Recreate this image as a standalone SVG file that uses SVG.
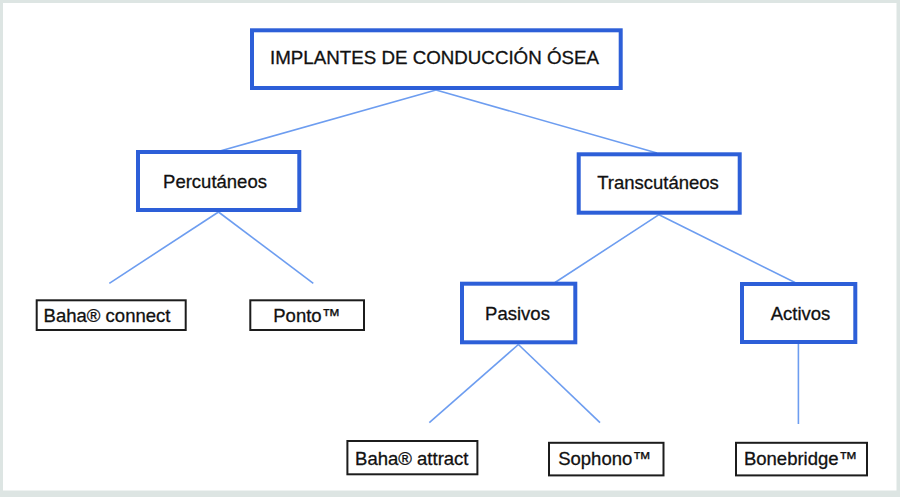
<svg xmlns="http://www.w3.org/2000/svg" width="900" height="497" viewBox="0 0 900 497">
<style>
.main{fill:#ffffff;stroke:#2d5fd8;stroke-width:4}
.leaf{fill:#ffffff;stroke:#1c1c1c;stroke-width:2}
.t{font-family:"Liberation Sans",Arial,Helvetica,sans-serif;font-size:18.5px;fill:#111111;stroke:#111111;stroke-width:0.3;text-anchor:middle}
.c{stroke:#6d9df0;stroke-width:1.6;fill:none}
</style>
<rect x="0" y="0" width="900" height="497" fill="#dde5e3"/>
<rect x="3" y="3" width="893.5" height="487.5" fill="#ffffff"/>
<g id="connectors">
<line class="c" x1="436" y1="90" x2="220" y2="151"/>
<line class="c" x1="436" y1="90" x2="657" y2="153"/>
<line class="c" x1="218.5" y1="212" x2="109.3" y2="283.3"/>
<line class="c" x1="218.5" y1="212" x2="313.3" y2="283.3"/>
<line class="c" x1="659" y1="214.7" x2="555" y2="282.5"/>
<line class="c" x1="659" y1="214.7" x2="795" y2="282.5"/>
<line class="c" x1="518.4" y1="344.5" x2="429.3" y2="422.7"/>
<line class="c" x1="518.4" y1="344.5" x2="600" y2="422.7"/>
<line class="c" x1="798.4" y1="344" x2="798.4" y2="424"/>
</g>
<g id="n-root">
<rect class="main" x="252" y="30.3" width="368.7" height="57.7"/>
<text class="t" x="434.5" y="64.3" textLength="329" lengthAdjust="spacingAndGlyphs">IMPLANTES DE CONDUCCIÓN ÓSEA</text>
</g>
<g id="n-percutaneos">
<rect class="main" x="138" y="152" width="161.3" height="58"/>
<text class="t" x="215" y="188.3">Percutáneos</text>
</g>
<g id="n-transcutaneos">
<rect class="main" x="578.7" y="154.3" width="161" height="58.4"/>
<text class="t" x="658" y="189.3">Transcutáneos</text>
</g>
<g id="n-pasivos">
<rect class="main" x="462" y="283.7" width="113.3" height="58.6"/>
<text class="t" x="517.5" y="320">Pasivos</text>
</g>
<g id="n-activos">
<rect class="main" x="742" y="284" width="113.3" height="58"/>
<text class="t" x="800.5" y="320">Activos</text>
</g>
<g id="n-baha-connect">
<rect class="leaf" x="36.7" y="300.3" width="149" height="29.7"/>
<text class="t" x="107" y="321.7">Baha® connect</text>
</g>
<g id="n-ponto">
<rect class="leaf" x="250.3" y="300.3" width="113.7" height="29.7"/>
<text class="t" x="306.7" y="321.7">Ponto™</text>
</g>
<g id="n-baha-attract">
<rect class="leaf" x="347.4" y="441" width="130" height="33.3"/>
<text class="t" x="411.8" y="464.7">Baha® attract</text>
</g>
<g id="n-sophono">
<rect class="leaf" x="549" y="442.8" width="114.5" height="32.6"/>
<text class="t" x="604.5" y="464.7">Sophono™</text>
</g>
<g id="n-bonebridge">
<rect class="leaf" x="736" y="442.8" width="131" height="32.6"/>
<text class="t" x="800.5" y="464.7">Bonebridge™</text>
</g>
</svg>
